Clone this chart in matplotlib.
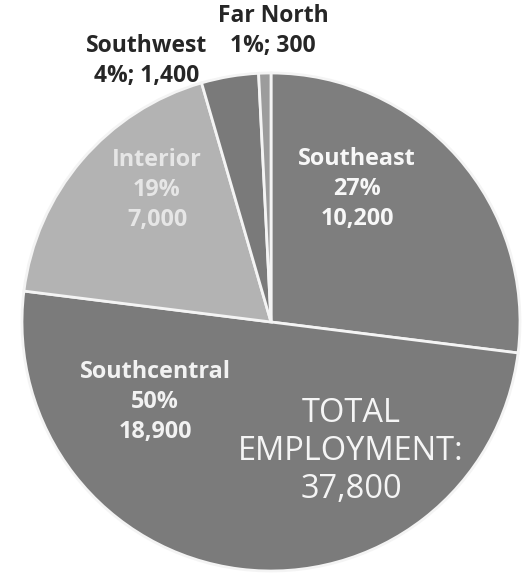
import matplotlib.pyplot as plt

# Employment by region
regions = ['Southeast', 'Southcentral', 'Interior', 'Southwest', 'Far North']
jobs = [10200, 18900, 7000, 1400, 300]
shares = ['27%', '50%', '19%', '4%', '1%']
colors = ['#7e7e7e', '#7b7b7b', '#b3b3b3', '#7a7a7a', '#9c9c9c']
total = 37800

W, H = 523, 582
fig = plt.figure(figsize=(W / 100, H / 100), dpi=100)
ax = fig.add_axes([0, 0, 1, 1])

ax.pie(jobs, colors=colors, startangle=90, counterclock=False,
       center=(271, H - 322), radius=249, frame=True,
       wedgeprops=dict(edgecolor='#f4f4f4', linewidth=2))
ax.set_xlim(0, W)
ax.set_ylim(0, H)
ax.set_aspect('equal')
ax.axis('off')

font = 'Open Sans'


def label(x, y, txt, color, size=16.8, weight='bold', ls=1.32):
    ax.text(x, H - y, txt, ha='center', va='center', color=color,
            fontsize=size, fontweight=weight, family=font, linespacing=ls)


def fmt(v):
    return f'{v:,}'


label(357, 189, f'{regions[0]}\n{shares[0]}\n{fmt(jobs[0])}', '#f7f7f7')
label(155, 402, f'{regions[1]}\n{shares[1]}\n{fmt(jobs[1])}', '#f2f2f2')
label(157, 190, f'{regions[2]}\n{shares[2]}\n{fmt(jobs[2])}', '#e6e6e6')
label(147, 61, f'{regions[3]}\n{shares[3]}; {fmt(jobs[3])}', '#262626',
      size=16.5, ls=1.3)
label(273, 31, f'{regions[4]}\n{shares[4]}; {fmt(jobs[4])}', '#262626',
      size=16.5, ls=1.3)

label(351, 451, f'TOTAL\nEMPLOYMENT:\n{fmt(total)}', '#f5f5f5',
      size=23.5, weight='normal', ls=1.2)

fig.savefig('out.png', dpi=100, facecolor='white')
